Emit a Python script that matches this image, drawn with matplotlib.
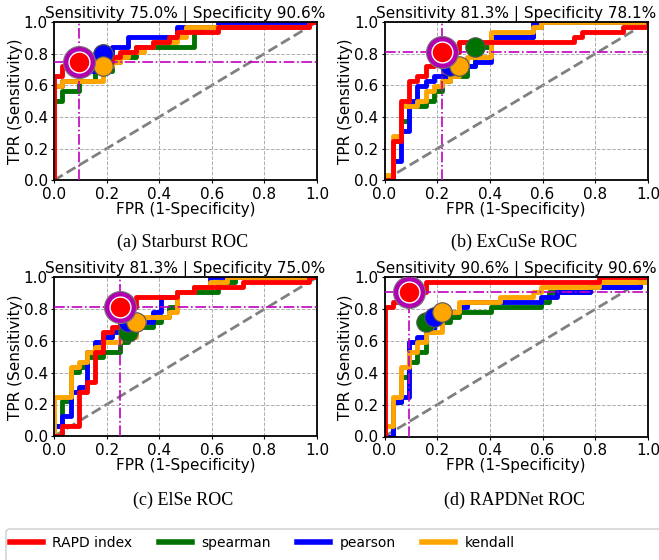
import matplotlib
matplotlib.use("Agg")
import matplotlib.pyplot as plt
from matplotlib.patches import FancyBboxPatch
from matplotlib.lines import Line2D
from matplotlib.transforms import IdentityTransform

# ---------------- data ----------------
captions = ["(a) Starburst ROC", "(b) ExCuSe ROC", "(c) ElSe ROC", "(d) RAPDNet ROC"]
sensitivity = [75.0, 81.3, 81.3, 90.6]
specificity = [90.6, 78.1, 75.0, 90.6]
methods = ["RAPD index", "spearman", "pearson", "kendall"]
colors = ["#ff0000", "#007200", "#0000ff", "#ffa500"]

# (a) Starburst
sb_rapd_fpr = [0, 0, 0.031, 0.063, 0.219, 0.25, 0.313, 0.375, 0.438, 0.469, 0.625, 0.969, 1.0]
sb_rapd_tpr = [0, 0.656, 0.719, 0.75, 0.781, 0.813, 0.844, 0.875, 0.906, 0.938, 0.969, 1.0, 1.0]
sb_spear_fpr = [0, 0, 0.031, 0.094, 0.156, 0.219, 0.25, 0.313, 0.531, 0.563, 0.969, 1.0]
sb_spear_tpr = [0, 0.5, 0.563, 0.625, 0.688, 0.75, 0.781, 0.844, 0.938, 0.969, 1.0, 1.0]
sb_pear_fpr = [0, 0, 0.031, 0.094, 0.188, 0.219, 0.281, 0.469, 0.625, 1.0]
sb_pear_tpr = [0, 0.594, 0.625, 0.688, 0.797, 0.844, 0.906, 0.969, 1.0, 1.0]
sb_kend_fpr = [0, 0, 0.031, 0.188, 0.219, 0.25, 0.281, 0.344, 0.375, 0.469, 0.5, 0.969, 1.0]
sb_kend_tpr = [0, 0.594, 0.625, 0.719, 0.75, 0.781, 0.813, 0.844, 0.875, 0.906, 0.969, 1.0, 1.0]
sb_ops_fpr = [0.188, 0.188, 0.188]   # spearman, pearson, kendall
sb_ops_tpr = [0.797, 0.797, 0.719]

# (b) ExCuSe
ex_rapd_fpr = [0, 0.031, 0.063, 0.094, 0.125, 0.156, 0.188, 0.219, 0.281, 0.719, 0.75, 0.906, 1.0]
ex_rapd_tpr = [0, 0.25, 0.5, 0.625, 0.656, 0.719, 0.75, 0.813, 0.875, 0.906, 0.938, 0.969, 1.0]
ex_spear_fpr = [0, 0.031, 0.063, 0.094, 0.156, 0.188, 0.219, 0.25, 0.313, 0.344, 0.406, 0.563, 0.594, 1.0]
ex_spear_tpr = [0, 0.25, 0.375, 0.469, 0.5, 0.563, 0.625, 0.656, 0.719, 0.844, 0.906, 0.969, 1.0, 1.0]
ex_pear_fpr = [0, 0.031, 0.063, 0.094, 0.125, 0.156, 0.188, 0.25, 0.344, 0.406, 0.563, 1.0]
ex_pear_tpr = [0, 0.125, 0.313, 0.5, 0.594, 0.625, 0.656, 0.719, 0.75, 0.906, 1.0, 1.0]
ex_kend_fpr = [0, 0, 0.031, 0.063, 0.125, 0.156, 0.188, 0.219, 0.25, 0.281, 0.313, 0.406, 0.563, 0.594, 1.0]
ex_kend_tpr = [0, 0.031, 0.281, 0.469, 0.5, 0.563, 0.594, 0.625, 0.656, 0.719, 0.781, 0.938, 0.969, 1.0, 1.0]
ex_ops_fpr = [0.344, 0.25, 0.281]
ex_ops_tpr = [0.844, 0.719, 0.719]

# (c) ElSe
el_rapd_fpr = [0, 0.031, 0.094, 0.125, 0.156, 0.188, 0.219, 0.25, 0.313, 0.469, 0.531, 0.719, 0.969, 1.0]
el_rapd_tpr = [0, 0.063, 0.281, 0.344, 0.531, 0.656, 0.688, 0.813, 0.875, 0.906, 0.938, 0.969, 1.0, 1.0]
el_spear_fpr = [0, 0, 0.031, 0.063, 0.094, 0.125, 0.188, 0.25, 0.281, 0.313, 0.375, 0.406, 0.438, 0.469, 0.625, 0.688, 1.0]
el_spear_tpr = [0, 0.063, 0.219, 0.406, 0.438, 0.5, 0.531, 0.594, 0.656, 0.688, 0.719, 0.75, 0.813, 0.906, 0.969, 1.0, 1.0]
el_pear_fpr = [0, 0, 0.031, 0.063, 0.094, 0.125, 0.156, 0.188, 0.219, 0.281, 0.375, 0.406, 0.469, 0.531, 0.594, 1.0]
el_pear_tpr = [0, 0.063, 0.125, 0.281, 0.313, 0.531, 0.594, 0.625, 0.656, 0.719, 0.781, 0.875, 0.906, 0.938, 1.0, 1.0]
el_kend_fpr = [0, 0, 0.063, 0.094, 0.125, 0.156, 0.188, 0.25, 0.313, 0.344, 0.438, 0.469, 0.531, 0.594, 0.656, 1.0]
el_kend_tpr = [0, 0.25, 0.438, 0.469, 0.531, 0.563, 0.594, 0.625, 0.719, 0.75, 0.781, 0.906, 0.938, 0.969, 1.0, 1.0]
el_ops_fpr = [0.281, 0.281, 0.313]
el_ops_tpr = [0.656, 0.719, 0.719]

# (d) RAPDNet
rn_rapd_fpr = [0, 0, 0.031, 0.063, 0.094, 0.156, 0.813, 1.0]
rn_rapd_tpr = [0, 0.813, 0.844, 0.875, 0.906, 0.969, 1.0, 1.0]
rn_spear_fpr = [0, 0.031, 0.063, 0.094, 0.125, 0.156, 0.25, 0.281, 0.406, 0.594, 0.625, 0.781, 0.969, 1.0]
rn_spear_tpr = [0, 0.219, 0.375, 0.469, 0.531, 0.719, 0.75, 0.781, 0.813, 0.844, 0.906, 0.938, 0.969, 1.0]
rn_pear_fpr = [0, 0.031, 0.063, 0.094, 0.125, 0.156, 0.188, 0.219, 0.281, 0.313, 0.594, 0.656, 0.781, 0.969, 1.0]
rn_pear_tpr = [0, 0.219, 0.25, 0.594, 0.625, 0.656, 0.75, 0.781, 0.813, 0.844, 0.875, 0.906, 0.938, 1.0, 1.0]
rn_kend_fpr = [0, 0, 0.031, 0.063, 0.094, 0.125, 0.156, 0.219, 0.281, 0.438, 0.563, 0.594, 0.813, 1.0]
rn_kend_tpr = [0, 0.063, 0.25, 0.438, 0.531, 0.594, 0.656, 0.781, 0.844, 0.875, 0.906, 0.938, 0.969, 1.0]
rn_ops_fpr = [0.156, 0.188, 0.219]
rn_ops_tpr = [0.719, 0.75, 0.781]

panels = [
    [(sb_rapd_fpr, sb_rapd_tpr), (sb_spear_fpr, sb_spear_tpr), (sb_pear_fpr, sb_pear_tpr), (sb_kend_fpr, sb_kend_tpr), (sb_ops_fpr, sb_ops_tpr)],
    [(ex_rapd_fpr, ex_rapd_tpr), (ex_spear_fpr, ex_spear_tpr), (ex_pear_fpr, ex_pear_tpr), (ex_kend_fpr, ex_kend_tpr), (ex_ops_fpr, ex_ops_tpr)],
    [(el_rapd_fpr, el_rapd_tpr), (el_spear_fpr, el_spear_tpr), (el_pear_fpr, el_pear_tpr), (el_kend_fpr, el_kend_tpr), (el_ops_fpr, el_ops_tpr)],
    [(rn_rapd_fpr, rn_rapd_tpr), (rn_spear_fpr, rn_spear_tpr), (rn_pear_fpr, rn_pear_tpr), (rn_kend_fpr, rn_kend_tpr), (rn_ops_fpr, rn_ops_tpr)],
]

# ---------------- layout ----------------
W, H = 659, 560
fig = plt.figure(figsize=(W / 100, H / 100), dpi=100)

axes_px = [(54, 22, 317, 180.3), (384.5, 22, 648, 180.3),
           (54, 277.3, 317, 436.3), (384.5, 277.3, 648, 436.5)]
caption_px = [(183, 242), (514, 242), (183, 500), (514, 500)]

LW = 3.5
for i, (l, t, r, b) in enumerate(axes_px):
    ax = fig.add_axes([l / W, 1 - b / H, (r - l) / W, (b - t) / H])
    data = panels[i]
    ax.plot([0, 1], [0, 1], color="gray", ls="--", lw=2, zorder=1)
    # draw order: spearman, pearson, kendall, RAPD on top
    for k in [1, 2, 3, 0]:
        f, tp = data[k]
        ax.plot(f, tp, drawstyle="steps-post", color=colors[k], lw=LW,
                zorder=2 + k * 0.1 if k else 2.5)
    op_x = 1 - specificity[i] / 100
    op_y = sensitivity[i] / 100
    ax.axvline(op_x, color="m", ls="-.", lw=1.2, zorder=3)
    ax.axhline(op_y, color="m", ls="-.", lw=1.2, zorder=3)
    ofx, ofy = data[4]
    for k in range(3):
        ax.plot([ofx[k]], [ofy[k]], "o", ms=14, color=colors[k + 1], mec="#555555",
                mew=0.8, zorder=4 + k * 0.1)
    ax.plot([op_x], [op_y], "o", ms=23, color="#b000b0", mec="#777777", mew=0.8, zorder=5)
    ax.plot([op_x], [op_y], "o", ms=15, color="#ff0000", mec="white", mew=1.0, zorder=5.1)

    ax.set_xlim(0, 1)
    ax.set_ylim(0, 1)
    ax.set_xticks([0, 0.2, 0.4, 0.6, 0.8, 1.0])
    ax.set_yticks([0, 0.2, 0.4, 0.6, 0.8, 1.0])
    ax.tick_params(labelsize=11, length=2, width=0.8, pad=2.5)
    ax.grid(True, color="#999999", ls="--", lw=0.7, alpha=0.8)
    for s in ax.spines.values():
        s.set_linewidth(1.3)
        s.set_color("black")
    ax.set_title(f"Sensitivity {sensitivity[i]:.1f}% | Specificity {specificity[i]:.1f}%",
                 fontsize=11, pad=0.5)
    ax.set_xlabel("FPR (1-Specificity)", fontsize=11)
    ax.set_ylabel("TPR (Sensitivity)", fontsize=11)
    ax.xaxis.set_label_coords(0.5, -21.4 / (b - t))
    ax.yaxis.set_label_coords(-31.5 / (r - l), 0.5)

    cx, cy = caption_px[i]
    fig.text(cx / W, 1 - cy / H, captions[i], ha="center", va="center",
             family="Liberation Serif", fontsize=13)

# legend
handles = [Line2D([], [], color=c, lw=4) for c in colors]
fig.legend(handles, methods, loc="center left", bbox_to_anchor=(10 / W, 1 - 543 / H),
           ncol=4, frameon=False, borderpad=0, borderaxespad=0, handlelength=2.4,
           handletextpad=0.65, columnspacing=1.9, fontsize=10)
frame = FancyBboxPatch((6, -20), 720, 51, boxstyle="round,pad=0,rounding_size=4",
                       transform=IdentityTransform(), facecolor="white",
                       edgecolor="#cccccc", lw=1, zorder=-1)
fig.patches.append(frame)

fig.savefig("out.png", dpi=100)
